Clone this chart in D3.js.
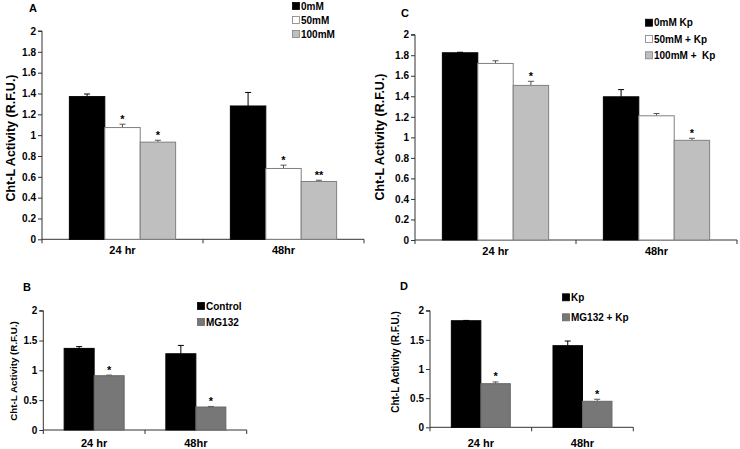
<!DOCTYPE html>
<html><head><meta charset="utf-8">
<script src="https://cdn.jsdelivr.net/npm/d3@7"></script>
<style>body{margin:0;background:#fff}svg{display:block;font-family:"Liberation Sans",Arial,sans-serif;font-weight:bold}</style>
</head><body><svg id="c" width="740" height="449"></svg>
<script>
const categories = ["24 hr", "48hr"];

const seriesA = ["0mM", "50mM", "100mM"];
const valuesA = [[1.37, 1.28], [1.073, 0.68], [0.933, 0.555]];
const errorsA = [[0.025, 0.13], [0.032, 0.032], [0.018, 0.012]];
const starsA = [["", ""], ["*", "*"], ["*", "**"]];

const seriesB = ["Control", "MG132"];
const valuesB = [[1.368, 1.278], [0.91, 0.385]];
const errorsB = [[0.03, 0.14], [0.01, 0.01]];
const starsB = [["", ""], ["*", "*"]];

const seriesC = ["0mM Kp", "50mM + Kp", "100mM +  Kp"];
const valuesC = [[1.824, 1.395], [1.72, 1.21], [1.506, 0.971]];
const errorsC = [[0.005, 0.07], [0.026, 0.022], [0.04, 0.02]];
const starsC = [["", ""], ["", ""], ["*", "*"]];

const seriesD = ["Kp", "MG132 + Kp"];
const valuesD = [[1.828, 1.40], [0.748, 0.446]];
const errorsD = [[0.005, 0.08], [0.03, 0.035]];
const starsD = [["", ""], ["*", "*"]];

const ticksTall = [0, 0.2, 0.4, 0.6, 0.8, 1, 1.2, 1.4, 1.6, 1.8, 2];
const ticksShort = [0, 0.5, 1, 1.5, 2];
const yTitle = "Cht-L Activity (R.F.U.)";

const svg = d3.select("#c");

function panel(o) {
  const g = svg.append("g");
  const x = d3.scaleBand().domain(categories).range([o.x0, o.x1]);
  const inner = d3.scaleBand().domain(o.series.map((s, i) => i))
    .range([0, x.bandwidth() * o.groupFrac]);
  const off = (x.bandwidth() - inner.range()[1]) / 2;
  const y = d3.scaleLinear().domain([0, 2]).range([o.yZero, o.yTop]);

  const ya = g.append("g").attr("transform", `translate(${o.x0},0)`)
    .call(d3.axisLeft(y).tickValues(o.ticks).tickSize(4).tickFormat(d => String(d)));
  ya.select(".domain").attr("stroke", "#333").attr("d", `M-4,${o.yTop}H0V${o.yZero + 4}`);
  ya.selectAll(".tick line").attr("stroke", "#333");
  ya.selectAll(".tick text").attr("font-size", o.tickFs).attr("font-weight", "bold")
    .attr("font-family", "Liberation Sans, Arial").attr("fill", "#000").attr("x", -6);

  g.append("line").attr("x1", o.x0).attr("x2", o.x1).attr("y1", o.yZero).attr("y2", o.yZero)
    .attr("stroke", "#333");
  [o.x0 + x.bandwidth(), o.x1].forEach(v =>
    g.append("line").attr("x1", v).attr("x2", v).attr("y1", o.yZero).attr("y2", o.yZero + 4).attr("stroke", "#333"));
  categories.forEach(c =>
    g.append("text").attr("x", x(c) + x.bandwidth() / 2).attr("y", o.xLabY)
      .attr("text-anchor", "middle").attr("font-size", 11).text(c));

  o.series.forEach((s, si) => {
    categories.forEach((c, ci) => {
      const v = o.values[si][ci], e = o.errors[si][ci];
      const bx = x(c) + off + inner(si), bw = inner.bandwidth();
      const errCol = si === 0 ? "#000" : "#555";
      g.append("line").attr("x1", bx + bw / 2).attr("x2", bx + bw / 2)
        .attr("y1", y(v)).attr("y2", y(v + e)).attr("stroke", errCol).attr("stroke-width", 1);
      g.append("line").attr("x1", bx + bw / 2 - 3).attr("x2", bx + bw / 2 + 3)
        .attr("y1", y(v + e)).attr("y2", y(v + e)).attr("stroke", errCol).attr("stroke-width", 1);
      g.append("rect").attr("x", bx).attr("y", y(v)).attr("width", bw).attr("height", y(0) - y(v))
        .attr("fill", o.fills[si]).attr("stroke", si === 0 ? "#000" : o.strokes[si]).attr("stroke-width", 1);
      if (o.stars[si][ci])
        g.append("text").attr("x", bx + bw / 2).attr("y", y(v + e) - 1.5).attr("text-anchor", "middle")
          .attr("font-size", 11).text(o.stars[si][ci]);
    });
  });

  g.append("text").attr("transform", `translate(${o.titleX},${o.titleY}) rotate(-90)`)
    .attr("text-anchor", "middle").attr("dominant-baseline", "central")
    .attr("font-size", o.titleFs).text(yTitle);

  g.append("text").attr("x", o.letterX).attr("y", o.letterY).attr("text-anchor", "middle")
    .attr("dominant-baseline", "central").attr("font-size", 11).text(o.letter);

  o.series.forEach((s, i) => {
    const ly = o.legY + i * o.legStep;
    g.append("rect").attr("x", o.legX - 0.5).attr("y", ly - 3.5).attr("width", 7).attr("height", 7)
      .attr("fill", o.fills[i]).attr("stroke", i === 0 ? "#000" : o.strokes[i]).attr("stroke-width", 0.8);
    g.append("text").attr("x", o.legX + 8).attr("y", ly).attr("dominant-baseline", "central")
      .attr("font-size", 10).style("white-space", "pre").text(s);
  });
}

panel({letter: "A", letterX: 33, letterY: 8, series: seriesA, values: valuesA, errors: errorsA, stars: starsA,
  fills: ["#000", "#fff", "#bfbfbf"], strokes: ["#000", "#808080", "#808080"],
  x0: 42, x1: 364, yTop: 31, yZero: 239.3, ticks: ticksTall, tickFs: 10, groupFrac: 0.66, xLabY: 254,
  titleX: 11, titleY: 138, titleFs: 12.5, legX: 293, legY: 6, legStep: 14});

panel({letter: "C", letterX: 405, letterY: 13, series: seriesC, values: valuesC, errors: errorsC, stars: starsC,
  fills: ["#000", "#fff", "#bfbfbf"], strokes: ["#000", "#808080", "#808080"],
  x0: 415, x1: 737, yTop: 34.7, yZero: 240, ticks: ticksTall, tickFs: 10, groupFrac: 0.66, xLabY: 255,
  titleX: 380, titleY: 137, titleFs: 12.5, legX: 646, legY: 22.7, legStep: 16.3});

panel({letter: "B", letterX: 27, letterY: 287, series: seriesB, values: valuesB, errors: errorsB, stars: starsB,
  fills: ["#000", "#777"], strokes: ["#000", "#666"],
  x0: 43.3, x1: 246.7, yTop: 310.7, yZero: 430, ticks: ticksShort, tickFs: 10, groupFrac: 0.59, xLabY: 447,
  titleX: 13, titleY: 371, titleFs: 9.8, legX: 198, legY: 306, legStep: 16});

panel({letter: "D", letterX: 404, letterY: 286, series: seriesD, values: valuesD, errors: errorsD, stars: starsD,
  fills: ["#000", "#777"], strokes: ["#000", "#666"],
  x0: 430, x1: 633.3, yTop: 310.7, yZero: 427.3, ticks: ticksShort, tickFs: 10, groupFrac: 0.58, xLabY: 447,
  titleX: 395, titleY: 362, titleFs: 10, legX: 563, legY: 297.3, legStep: 20});
</script></body></html>
